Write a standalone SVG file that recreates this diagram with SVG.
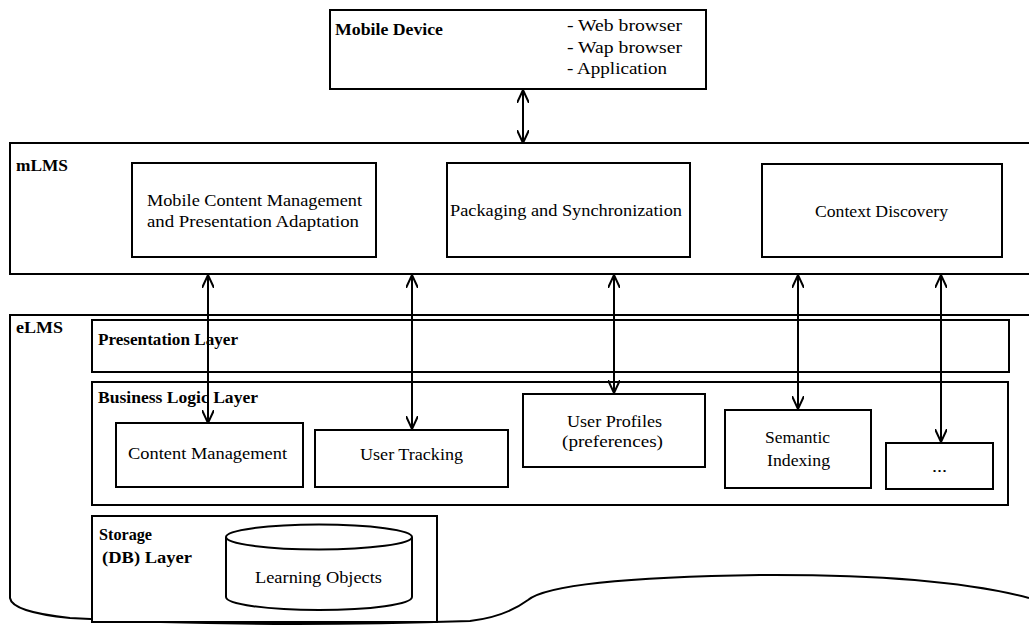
<svg xmlns="http://www.w3.org/2000/svg" width="1029" height="631" viewBox="0 0 1029 631" font-family="'Liberation Serif', 'DejaVu Serif', serif">
<defs>
<style>
.box{fill:#fff;stroke:#000;stroke-width:2}
.frame{fill:none;stroke:#000;stroke-width:2}
text{font-family:'Liberation Serif','DejaVu Serif',serif;font-size:16px;fill:#000}
.b{font-weight:bold}
.conn{stroke:#000;stroke-width:2;fill:none;marker-start:url(#arr);marker-end:url(#arr)}
</style>
<marker id="arr" viewBox="0 0 14 12" refX="13" refY="6" markerWidth="14" markerHeight="12" markerUnits="userSpaceOnUse" orient="auto-start-reverse">
<path d="M0,0 L13,6 L0,12" fill="none" stroke="#000" stroke-width="2"/>
</marker>
</defs>
<rect width="1029" height="631" fill="#fff"/>

<g id="mobile-device">
<rect class="box" x="330" y="10" width="376" height="79"/>
<text class="b" x="335" y="35" textLength="108" lengthAdjust="spacingAndGlyphs">Mobile Device</text>
<text x="567" y="31" textLength="115" lengthAdjust="spacingAndGlyphs">- Web browser</text>
<text x="567" y="53" textLength="115" lengthAdjust="spacingAndGlyphs">- Wap browser</text>
<text x="567" y="74" textLength="100" lengthAdjust="spacingAndGlyphs">- Application</text>
</g>

<g id="mlms">
<rect class="frame" x="10" y="143" width="1030" height="131"/>
<text class="b" x="16" y="171" textLength="52" lengthAdjust="spacingAndGlyphs">mLMS</text>
</g>

<g id="mobile-content">
<rect class="box" x="132" y="163" width="244" height="94"/>
<text x="147" y="206" textLength="215" lengthAdjust="spacingAndGlyphs">Mobile Content Management</text>
<text x="147" y="227" textLength="212" lengthAdjust="spacingAndGlyphs">and Presentation Adaptation</text>
</g>

<g id="packaging">
<rect class="box" x="447" y="163" width="243" height="94"/>
<text x="450" y="216" textLength="232" lengthAdjust="spacingAndGlyphs">Packaging and Synchronization</text>
</g>

<g id="context-discovery">
<rect class="box" x="762" y="164" width="240" height="93"/>
<text x="815" y="217" textLength="133" lengthAdjust="spacingAndGlyphs">Context Discovery</text>
</g>

<g id="elms">
<path class="frame" d="M1040,315 H10 V598 Q12,612 70,618 Q250,628 470,621 Q505,617 528,600 Q555,578 760,575 Q940,574 1029,598"/>
<text class="b" x="16" y="333" textLength="47" lengthAdjust="spacingAndGlyphs">eLMS</text>
</g>

<g id="presentation-layer">
<rect class="box" x="92" y="320" width="917" height="52"/>
<text class="b" x="98" y="345" textLength="140" lengthAdjust="spacingAndGlyphs">Presentation Layer</text>
</g>

<g id="business-logic-layer">
<rect class="box" x="92" y="382" width="916" height="123"/>
<text class="b" x="98" y="403" textLength="160" lengthAdjust="spacingAndGlyphs">Business Logic Layer</text>
</g>

<g id="content-management">
<rect class="box" x="116" y="423" width="187" height="64"/>
<text x="128" y="459" textLength="159" lengthAdjust="spacingAndGlyphs">Content Management</text>
</g>

<g id="user-tracking">
<rect class="box" x="315" y="430" width="193" height="57"/>
<text x="360" y="460" textLength="103" lengthAdjust="spacingAndGlyphs">User Tracking</text>
</g>

<g id="user-profiles">
<rect class="box" x="523" y="394" width="182" height="73"/>
<text x="567" y="427" textLength="95" lengthAdjust="spacingAndGlyphs">User Profiles</text>
<text x="562" y="447" textLength="101" lengthAdjust="spacingAndGlyphs">(preferences)</text>
</g>

<g id="semantic-indexing">
<rect class="box" x="725" y="410" width="146" height="78"/>
<text x="765" y="443" textLength="65" lengthAdjust="spacingAndGlyphs">Semantic</text>
<text x="767" y="466" textLength="63" lengthAdjust="spacingAndGlyphs">Indexing</text>
</g>

<g id="more">
<rect class="box" x="886" y="443" width="107" height="46"/>
<text x="932" y="472" textLength="15" lengthAdjust="spacingAndGlyphs">...</text>
</g>

<g id="storage-layer">
<rect class="box" x="92" y="516" width="345" height="106"/>
<text class="b" x="99" y="540" textLength="53" lengthAdjust="spacingAndGlyphs">Storage</text>
<text class="b" x="102" y="563" textLength="90" lengthAdjust="spacingAndGlyphs">(DB) Layer</text>
</g>

<g id="learning-objects">
<path class="box" d="M226,537 V597 A93,13 0 0 0 412,597 V537 A93,12.5 0 0 0 226,537 Z"/>
<path class="frame" d="M226,537 A93,12.5 0 0 0 412,537"/>
<text x="255" y="583" textLength="127" lengthAdjust="spacingAndGlyphs">Learning Objects</text>
</g>

<g id="connectors">
<line class="conn" x1="523" y1="90" x2="523" y2="143"/>
<line class="conn" x1="208" y1="275" x2="208" y2="423"/>
<line class="conn" x1="412" y1="275" x2="412" y2="429"/>
<line class="conn" x1="614" y1="275" x2="614" y2="393"/>
<line class="conn" x1="798" y1="275" x2="798" y2="409"/>
<line class="conn" x1="941" y1="275" x2="941" y2="442"/>
</g>
</svg>
